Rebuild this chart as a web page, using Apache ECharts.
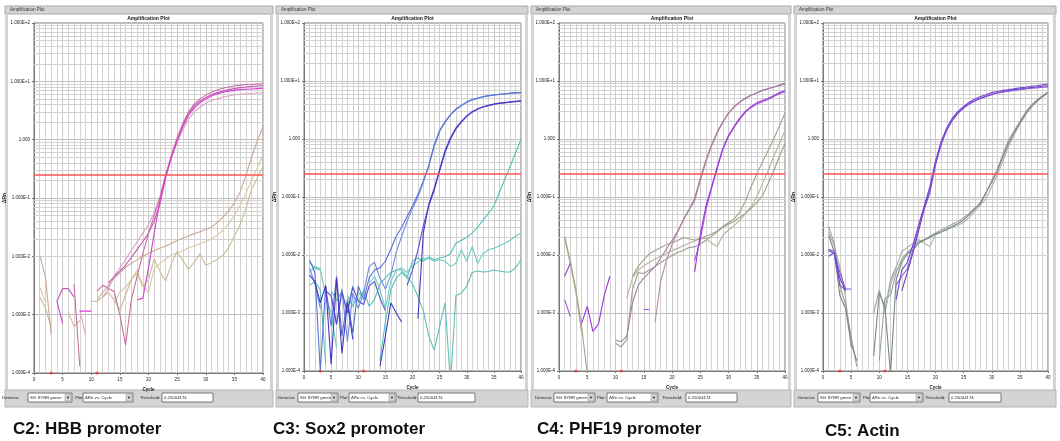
<!DOCTYPE html>
<html>
<head>
<meta charset="utf-8">
<script src="https://cdn.jsdelivr.net/npm/echarts@6/dist/echarts.min.js"></script>
<style>
  html, body { margin: 0; padding: 0; background: #fff; }
  #chart { width: 1060px; height: 441px; }
</style>
</head>
<body>
<div id="chart"></div>
<script>
const _ = '-'; // no point (negative dRn, not drawn on log scale)

const cycles = [1, 2, 3, 4, 5, 6, 7, 8, 9, 10, 11, 12, 13, 14, 15, 16, 17, 18, 19, 20,
  21, 22, 23, 24, 25, 26, 27, 28, 29, 30, 31, 32, 33, 34, 35, 36, 37, 38, 39, 40];
const yTickLabels = ['1.000E-4', '1.000E-3', '1.000E-2', '1.000E-1', '1.000', '1.000E+1', '1.000E+2'];
const threshold = 0.25004174;
const baselineCycles = [3, 11];
const captions = ['C2: HBB promoter', 'C3: Sox2 promoter', 'C4: PHF19 promoter', 'C5: Actin'];

// C2: HBB promoter
const hbbMag1 = [_, _, _, 1.7e-3, 2.8e-3, 2.8e-3, 2.0e-3, _, _, _,
  _, _, 3.5e-3, 4.5e-3, 5.6e-3, 7.1e-3, 9.5e-3, 0.013, 0.018, 0.025,
  0.04, 0.079, 0.22, 0.5, 1.0, 1.78, 2.8, 3.8, 4.6, 5.3,
  5.9, 6.4, 6.8, 7.2, 7.5, 7.8, 8.0, 8.2, 8.3, 8.4];
const hbbMag2 = [_, _, _, _, _, _, 3.3e-3, 1.3e-4, _, _,
  2.5e-3, 3.2e-3, 2.8e-3, 2.5e-3, 1.0e-3, 3.0e-4, 1.8e-3, 4.5e-3, 0.011, 0.025,
  0.05, 0.1, 0.25, 0.55, 1.07, 1.9, 3.0, 4.1, 5.0, 5.8,
  6.5, 7.1, 7.6, 8.0, 8.3, 8.6, 8.8, 8.9, 9.0, 9.1];
const hbbMag3 = [_, _, _, 1.7e-3, 7.0e-4, _, _, 1.15e-3, 1.15e-3, 1.15e-3,
  _, _, _, _, _, _, _, 1.8e-3, 1.9e-3, 6.3e-3,
  0.025, 0.09, 0.24, 0.5, 0.95, 1.66, 2.6, 3.5, 4.3, 5.0,
  5.6, 6.1, 6.5, 6.8, 7.0, 7.2, 7.3, 7.4, 7.5, 7.6];
const hbbMag4 = [_, _, _, _, _, _, _, 1.2e-3, 4.5e-4, _,
  _, 2.0e-3, 2.8e-3, 4.5e-3, 6.3e-3, 8.9e-3, 0.0126, 0.0178, 0.025, 0.035,
  0.056, 0.105, 0.25, 0.5, 0.89, 1.48, 2.24, 3.0, 3.6, 4.2,
  4.7, 5.0, 5.4, 5.6, 5.9, 6.0, 6.1, 6.2, 6.3, 6.3];
const hbbTan1 = [0.0105, 4.4e-3, 4.6e-4, _, _, _, _, _, _, _,
  1.8e-3, 2.4e-3, 3.2e-3, 4.2e-3, 5.2e-3, 6.5e-3, 7.6e-3, 8.7e-3, 0.01, 0.0112,
  0.0126, 0.0138, 0.015, 0.0166, 0.0186, 0.0204, 0.0224, 0.0245, 0.0263, 0.0288,
  0.0316, 0.038, 0.047, 0.06, 0.083, 0.126, 0.24, 0.5, 0.95, 1.66];
const hbbTan2 = [2.0e-3, 1.3e-3, 6.0e-4, _, _, 1.1e-3, 6.3e-4, 8.0e-4, _, 1.7e-3,
  1.7e-3, 2.0e-3, 2.4e-3, 1.8e-3, 1.2e-3, 2.2e-3, 4.0e-3, 5.2e-3, 3.0e-3, 4.0e-3,
  9.0e-3, 5.5e-3, 3.8e-3, 7.5e-3, 0.012, 8.5e-3, 6.0e-3, 8.0e-3, 0.011, 7.0e-3,
  7.8e-3, 8.8e-3, 0.0105, 0.014, 0.022, 0.035, 0.065, 0.14, 0.22, 0.35];
const hbbTan3 = [3.0e-3, 1.6e-3, _, _, _, _, _, _, _, _,
  _, _, _, 1.6e-3, 2.4e-3, 3.0e-3, 4.0e-3, 5.8e-3, 3.2e-3, 2.4e-3,
  6.2e-3, 7.5e-3, 9.0e-3, 0.0105, 0.0115, 0.0125, 0.014, 0.015, 0.0165, 0.018,
  0.02, 0.023, 0.028, 0.036, 0.05, 0.075, 0.12, 0.2, 0.33, 0.55];

// C3: Sox2 promoter
const soxBlue1 = [8.3e-3, 5.0e-3, 1.0e-4, 2.9e-3, 5.9e-4, 4.3e-3, 4.0e-4, 1.7e-3, 4.5e-4, 2.9e-3,
  1.7e-3, 4.0e-3, 5.5e-3, 6.0e-3, 7.8e-3, 0.0126, 0.021, 0.03, 0.046, 0.07,
  0.11, 0.19, 0.35, 0.79, 1.41, 2.0, 2.63, 3.3, 3.8, 4.37,
  4.8, 5.1, 5.4, 5.6, 5.75, 5.9, 6.0, 6.2, 6.3, 6.3];
const soxBlue2 = [6.0e-3, 3.2e-3, 1.2e-3, _, 2.0e-3, 6.5e-4, 2.6e-3, 3.2e-4, 2.2e-3, 1.2e-3,
  2.2e-3, 6.3e-3, 7.5e-3, 4.0e-3, 2.6e-3, 4.5e-3, 0.0112, 0.021, 0.038, 0.063,
  0.1, 0.18, 0.34, 0.75, 1.35, 1.95, 2.6, 3.2, 3.75, 4.3,
  4.7, 5.0, 5.3, 5.5, 5.7, 5.85, 6.0, 6.1, 6.2, 6.3];
const soxIndigo1 = [4.5e-3, 3.5e-3, 1.5e-3, 3.0e-3, 1.3e-4, 4.0e-3, 2.0e-4, 1.5e-3, 3.5e-4, _,
  _, _, _, 1.2e-4, 4.0e-4, 1.5e-3, 1.0e-3, 7.0e-4, _, _,
  8.0e-4, 0.024, 0.075, 0.14, 0.3, 0.63, 1.05, 1.55, 2.0, 2.5,
  2.95, 3.3, 3.6, 3.8, 4.0, 4.15, 4.27, 4.37, 4.47, 4.57];
const soxIndigo2 = [_, _, _, 2.4e-3, 2.0e-3, 6.3e-4, 2.3e-3, 1.0e-3, 2.8e-3, 1.6e-3,
  1.4e-3, 2.9e-3, 3.5e-3, 1.8e-3, 1.1e-3, _, _, _, 3.0e-3, 5.5e-3,
  0.012, 0.032, 0.07, 0.13, 0.28, 0.58, 1.0, 1.48, 1.95, 2.45,
  2.9, 3.25, 3.55, 3.75, 3.95, 4.1, 4.2, 4.3, 4.4, 4.5];
const soxTeal1 = [7.5e-3, 6.0e-3, 5.5e-3, _, 2.4e-3, 1.7e-3, _, 2.0e-3, 1.3e-3, 2.3e-3,
  1.8e-3, _, _, 1.5e-4, 7.0e-4, 2.5e-3, 4.0e-3, 5.0e-3, 4.0e-3, 7.9e-3,
  8.9e-3, 7.8e-3, 9.3e-3, 8.3e-3, 8.9e-3, 9.3e-3, 0.0105, 0.016, 0.018, 0.02,
  0.024, 0.03, 0.04, 0.052, 0.07, 0.118, 0.2, 0.34, 0.58, 0.98];
const soxTeal2 = [5.0e-3, 6.3e-3, 5.8e-3, 2.0e-3, 1.0e-3, 2.5e-4, _, 1.2e-3, 3.0e-3, _,
  _, 3.2e-3, 4.3e-3, 2.5e-3, 1.2e-3, 3.5e-3, 5.5e-3, 6.0e-3, 5.0e-3, 6.5e-3,
  7.5e-3, 8.7e-3, 8.7e-3, 7.8e-3, 8.3e-3, 7.9e-3, 6.3e-3, 7.2e-3, 0.0123, 7.8e-3,
  0.014, 7.2e-3, 0.0105, 0.0123, 0.013, 0.0145, 0.016, 0.018, 0.021, 0.024];
const soxTeal3 = [3.0e-3, 3.5e-3, 2.5e-3, 1.3e-4, _, 1.6e-3, 2.4e-3, 1.0e-3, _, 1.5e-3,
  2.5e-3, 1.3e-3, 1.7e-3, 3.2e-3, 4.0e-3, 5.0e-3, 5.5e-3, 5.5e-3, 4.3e-3, 3.2e-3,
  1.9e-3, 1.1e-3, 4.0e-4, 2.3e-4, 5.9e-4, 1.5e-3, 6.0e-5, 2.0e-3, 2.2e-3, 2.9e-3,
  5.0e-3, 5.3e-3, 5.1e-3, 5.2e-3, 5.5e-3, 5.3e-3, 5.1e-3, 5.1e-3, 6.0e-3, 8.3e-3];

// C4: PHF19 promoter
const phfMauve1 = [_, _, _, _, _, _, _, _, _, 3.4e-4,
  3.2e-4, 4.0e-4, 1.5e-3, 3.0e-3, 4.0e-3, 5.0e-3, 6.3e-3, 8.9e-3, 0.0126, 0.0178,
  0.026, 0.04, 0.06, 0.095, 0.21, 0.43, 0.8, 1.32, 2.0, 2.82,
  3.63, 4.37, 5.1, 5.75, 6.3, 6.9, 7.4, 7.9, 8.5, 9.1];
const phfMauve2 = [_, _, _, _, _, _, _, _, _, _,
  _, _, _, _, _, _, 7.0e-4, 3.5e-3, 8.0e-3, 0.015,
  0.025, 0.04, 0.06, 0.085, 0.19, 0.4, 0.76, 1.26, 1.95, 2.75,
  3.55, 4.3, 5.0, 5.6, 6.2, 6.8, 7.3, 7.8, 8.3, 8.9];
const phfPurple1 = [4.3e-3, 7.2e-3, _, 6.6e-4, 1.3e-3, 4.8e-4, 6.5e-4, 2.0e-3, 4.3e-3, _,
  _, _, _, _, _, _, _, _, _, _,
  _, _, _, 5.1e-3, 0.022, 0.07, 0.15, 0.33, 0.69, 1.15,
  1.66, 2.3, 3.0, 3.6, 4.2, 4.6, 5.0, 5.6, 6.3, 6.8];
const phfPurple2 = [1.7e-3, 8.7e-4, _, _, _, _, _, _, _, _,
  _, _, _, _, 1.15e-3, 1.15e-3, _, _, _, _,
  _, _, _, 8.0e-3, 0.018, 0.06, 0.14, 0.31, 0.66, 1.1,
  1.6, 2.2, 2.9, 3.5, 4.0, 4.4, 4.8, 5.4, 6.0, 6.6];
const phfTan1 = [0.021, 7.9e-3, 2.5e-3, 5.9e-4, 9.0e-5, _, _, _, _, _,
  _, _, 4.3e-3, 6.3e-3, 8.3e-3, 0.0105, 0.012, 0.0135, 0.015, 0.0162,
  0.0178, 0.02, 0.019, 0.018, 0.0195, 0.021, 0.023, 0.026, 0.031, 0.036,
  0.042, 0.055, 0.085, 0.15, 0.25, 0.4, 0.63, 1.0, 1.66, 2.8];
const phfTan2 = [0.019, 7.0e-3, 2.2e-3, 4.5e-4, _, _, _, _, _, _,
  _, 1.8e-3, 4.0e-3, 5.5e-3, 6.5e-3, 7.5e-3, 8.5e-3, 9.5e-3, 0.0105, 0.012,
  0.013, 0.0145, 0.016, 0.0175, 0.019, 0.0195, 0.016, 0.014, 0.022, 0.027,
  0.032, 0.04, 0.052, 0.068, 0.1, 0.17, 0.28, 0.5, 0.83, 1.4];
const phfTan3 = [_, _, _, _, _, _, _, _, _, 3.0e-4,
  2.6e-4, 3.5e-4, 2.5e-3, 5.0e-3, 4.8e-3, 5.5e-3, 6.3e-3, 7.4e-3, 8.5e-3, 9.8e-3,
  0.011, 0.012, 0.0135, 0.0138, 0.0155, 0.018, 0.021, 0.025, 0.03, 0.034,
  0.038, 0.045, 0.052, 0.064, 0.08, 0.105, 0.17, 0.28, 0.5, 0.83];

// C5: Actin
const actPurple1 = [0.012, 0.0105, 3.0e-3, 2.5e-3, _, _, _, _, _, _,
  _, _, 1.7e-3, 5.5e-3, 7.5e-3, 0.015, 0.033, 0.07, 0.15, 0.42,
  0.9, 1.55, 2.3, 3.0, 3.65, 4.3, 4.9, 5.4, 5.8, 6.3,
  6.6, 6.9, 7.1, 7.35, 7.6, 7.8, 8.1, 8.3, 8.6, 8.9];
const actPurple2 = [0.0125, 0.0115, 5.0e-3, 2.6e-3, 2.6e-3, _, _, _, _, _,
  _, _, 3.0e-3, 4.3e-3, 5.8e-3, 0.0123, 0.03, 0.068, 0.14, 0.38,
  0.85, 1.5, 2.2, 2.9, 3.5, 4.1, 4.6, 5.1, 5.5, 5.9,
  6.2, 6.5, 6.7, 6.9, 7.1, 7.3, 7.5, 7.6, 7.8, 7.9];
const actPurple3 = [9.5e-3, 0.011, 4.0e-3, 2.4e-3, _, _, _, _, _, _,
  _, _, _, 2.4e-3, 5.0e-3, 0.011, 0.026, 0.062, 0.12, 0.36,
  0.8, 1.42, 2.1, 2.8, 3.4, 4.0, 4.5, 5.0, 5.4, 5.8,
  6.2, 6.5, 6.8, 7.1, 7.3, 7.5, 7.7, 7.9, 8.1, 8.3];
const actGray1 = [0.031, 0.016, 3.0e-3, 1.4e-3, 4.0e-4, 1.2e-4, _, _, _, 1.5e-4,
  1.8e-3, 2.0e-3, 5.0e-3, 8.5e-3, 0.011, 0.014, 0.017, 0.0185, 0.021, 0.024,
  0.027, 0.03, 0.034, 0.038, 0.044, 0.052, 0.065, 0.075, 0.12, 0.19,
  0.3, 0.55, 0.95, 1.4, 2.0, 2.9, 3.8, 4.7, 5.6, 6.5];
const actGray2 = [0.025, 0.014, 6.3e-3, 1.9e-3, 2.5e-4, _, _, _, _, _,
  1.0e-3, 3.0e-3, 6.0e-3, 0.0115, 0.0135, 0.016, 0.0185, 0.016, 0.014, 0.022,
  0.025, 0.027, 0.03, 0.033, 0.036, 0.045, 0.058, 0.072, 0.095, 0.15,
  0.24, 0.42, 0.75, 1.2, 1.8, 2.6, 3.5, 4.4, 5.3, 6.2];
const actGray3 = [0.022, 0.0112, 2.0e-3, 1.2e-3, 3.0e-4, 1.5e-4, _, _, 1.8e-4, 2.2e-3,
  1.3e-3, 9.0e-5, 3.7e-3, 7.5e-3, 0.0105, 0.0123, 0.016, 0.018, 0.02, 0.023,
  0.025, 0.028, 0.031, 0.035, 0.04, 0.05, 0.063, 0.08, 0.12, 0.18,
  0.28, 0.5, 0.85, 1.3, 1.9, 2.7, 3.6, 4.5, 5.4, 6.3];
const actGray4 = [_, _, _, _, _, _, _, _, 1.0e-3, 2.5e-3,
  1.1e-3, 3.7e-3, 6.3e-3, _, _, _, _, _, _, _,
  _, _, _, _, _, _, _, _, _, _,
  _, _, _, _, _, _, _, _, _, _];

// log grid: decades and the 2..9 steps between them
const logDecades = [1e-4, 1e-3, 1e-2, 1e-1, 1, 10];
const logSteps = [2, 3, 4, 5, 6, 7, 8, 9];
const minorLog = logDecades.flatMap(d => logSteps.map(s => s * d));

const panels = [
  { grid: { left: 34, top: 23, width: 229, height: 350 }, fx: 5, fw: 268, capX: 13, capY: 429,
    ctl: [2, 28, 44, 75, 83, 50, 140, 162, 51],
    traces: [[hbbTan3, '#d8c9a8'], [hbbTan2, '#c9bd92'], [hbbTan1, '#c9a994'],
      [hbbMag4, '#dca2c8'], [hbbMag1, '#c257b4'], [hbbMag2, '#c8709e'], [hbbMag3, '#d83ed2']] },
  { grid: { left: 304, top: 23, width: 217, height: 348 }, fx: 276, fw: 252, capX: 273, capY: 429,
    ctl: [278, 298, 40, 340, 349, 47, 397, 418, 57],
    traces: [[soxTeal3, '#5cbfb6'], [soxTeal2, '#6fcbc2'], [soxTeal1, '#4fc2b9'],
      [soxBlue2, '#6c8ce0'], [soxBlue1, '#5673d4'], [soxIndigo2, '#5a4ed0'], [soxIndigo1, '#4536c2']] },
  { grid: { left: 559, top: 23, width: 226, height: 348 }, fx: 531, fw: 260, capX: 537, capY: 429,
    ctl: [535, 554, 41, 597, 607, 51, 662, 686, 51],
    traces: [[phfTan3, '#9c9c90'], [phfTan2, '#b8b098'], [phfTan1, '#a8a088'],
      [phfMauve2, '#b48cb0'], [phfMauve1, '#a57e9c'], [phfPurple2, '#a752e0'], [phfPurple1, '#9a36da']] },
  { grid: { left: 823, top: 23, width: 225, height: 348 }, fx: 794, fw: 262, capX: 825, capY: 431,
    ctl: [798, 818, 42, 863, 870, 53, 925, 949, 52],
    traces: [[actGray4, '#98a49c'], [actGray2, '#a8b2ac'], [actGray1, '#95a398'], [actGray3, '#7c8680'],
      [actPurple3, '#6a3ec0'], [actPurple2, '#8658d8'], [actPurple1, '#7448d0']] }
];

const toPairs = arr => arr.map((v, i) => [cycles[i], v]);
const tiny = 'Liberation Sans';

let series = [];
let graphic = [];
panels.forEach((p, i) => {
  // minor log grid lines, kept under the traces
  series.push({
    type: 'line', xAxisIndex: i, yAxisIndex: i, data: [], z: 1, silent: true,
    markLine: {
      z: 1, silent: true, symbol: ['none', 'none'], label: { show: false },
      lineStyle: { color: '#d2d2d2', width: 1, type: 'solid' },
      data: minorLog.map(v => ({ yAxis: v }))
    }
  });
  p.traces.forEach(([arr, color]) => {
    series.push({
      type: 'line', xAxisIndex: i, yAxisIndex: i, data: toPairs(arr),
      showSymbol: false, symbol: 'none', z: 3, silent: true,
      lineStyle: { color: color, width: 1.1 }
    });
  });
  // threshold + baseline markers
  series.push({
    type: 'scatter', xAxisIndex: i, yAxisIndex: i, clip: false, z: 5, silent: true,
    data: baselineCycles.map(c => [c, 1e-4]),
    symbol: 'circle', symbolSize: 3, itemStyle: { color: '#ff2a2a' },
    markLine: {
      z: 6, silent: true, symbol: ['none', 'none'], label: { show: false },
      lineStyle: { color: '#ff5555', width: 1.5, type: 'solid' },
      data: [{ yAxis: threshold }]
    }
  });

  const g = p.grid;
  // window chrome
  graphic.push(
    { type: 'rect', shape: { x: p.fx, y: 6, width: p.fw, height: 8 }, style: { fill: '#d4d4d4', stroke: '#a8a8a8', lineWidth: 1 } },
    { type: 'text', x: p.fx + 5, y: 10, style: { text: 'Amplification Plot', font: '4.5px ' + tiny, fill: '#333', verticalAlign: 'middle' } },
    { type: 'rect', shape: { x: p.fx, y: 14, width: 3, height: 376 }, style: { fill: '#d4d4d4' } },
    { type: 'rect', shape: { x: p.fx + p.fw - 3, y: 14, width: 3, height: 376 }, style: { fill: '#d4d4d4' } },
    { type: 'rect', shape: { x: p.fx, y: 390, width: p.fw, height: 17 }, style: { fill: '#d4d4d4', stroke: '#b4b4b4', lineWidth: 1 } },
    { type: 'text', x: g.left + g.width / 2, y: 19, style: { text: 'Amplification Plot', font: 'bold 5px ' + tiny, fill: '#111', align: 'center', verticalAlign: 'middle' } }
  );
  // controls
  const c = p.ctl;
  const cy = 393, ch = 9;
  const label = (x, t) => ({ type: 'text', x: x, y: cy + ch / 2, style: { text: t, font: '4.3px ' + tiny, fill: '#222', verticalAlign: 'middle' } });
  const box = (x, w, t, drop) => {
    const els = [
      { type: 'rect', shape: { x: x, y: cy, width: w, height: ch }, style: { fill: '#fff', stroke: '#777', lineWidth: 1 } },
      { type: 'text', x: x + 2, y: cy + ch / 2, style: { text: t, font: '4.3px ' + tiny, fill: '#222', verticalAlign: 'middle' } }
    ];
    if (drop) {
      els.push(
        { type: 'rect', shape: { x: x + w - 7, y: cy + 1, width: 6, height: ch - 2 }, style: { fill: '#d8d8d8', stroke: '#888', lineWidth: 0.5 } },
        { type: 'text', x: x + w - 4, y: cy + ch / 2, style: { text: '▼', font: '4px ' + tiny, fill: '#111', align: 'center', verticalAlign: 'middle' } }
      );
    }
    return els;
  };
  graphic.push(label(c[0], 'Detector:'), ...box(c[1], c[2], 'SG SYBR green', true),
    label(c[3], 'Plot:'), ...box(c[4], c[5], 'ΔRn vs. Cycle', true),
    label(c[6], 'Threshold:'), ...box(c[7], c[8], String(threshold), false));
  // caption
  graphic.push({ type: 'text', x: p.capX, y: p.capY, style: { text: captions[i], font: 'bold 17px "Liberation Sans", Arial, sans-serif', fill: '#111', verticalAlign: 'middle' } });
});

const chart = echarts.init(document.getElementById('chart'));
chart.setOption({
  animation: false,
  backgroundColor: '#ffffff',
  grid: panels.map(p => ({ ...p.grid, show: true, backgroundColor: '#ffffff', borderColor: '#777', borderWidth: 1 })),
  xAxis: panels.map((p, i) => ({
    type: 'value', gridIndex: i, min: 0, max: 40, interval: 5,
    name: 'Cycle', nameLocation: 'middle', nameGap: 12,
    nameTextStyle: { fontSize: 4.5, fontWeight: 'bold', color: '#222', fontFamily: tiny },
    axisLine: { show: true, lineStyle: { color: '#777', width: 1 } },
    axisTick: { show: true, length: 2, lineStyle: { color: '#777' } },
    axisLabel: { fontSize: 4.5, color: '#222', margin: 4, fontFamily: tiny },
    splitLine: { show: true, lineStyle: { color: '#c8c8c8', width: 1 } },
    minorTick: { show: false, splitNumber: 5 },
    minorSplitLine: { show: true, lineStyle: { color: '#d2d2d2', width: 1 } }
  })),
  yAxis: panels.map((p, i) => ({
    type: 'log', logBase: 10, gridIndex: i, min: 1e-4, max: 100, splitNumber: 6,
    name: 'ΔRn', nameLocation: 'middle', nameGap: 22, nameRotate: 90,
    nameTextStyle: { fontSize: 5, fontWeight: 'bold', color: '#222', fontFamily: tiny },
    axisLine: { show: true, lineStyle: { color: '#777', width: 1 } },
    axisTick: { show: true, length: 2, lineStyle: { color: '#777' } },
    axisLabel: {
      fontSize: 4.5, color: '#222', margin: 4, fontFamily: tiny,
      formatter: v => yTickLabels[Math.round(Math.log10(v)) + 4] || ''
    },
    splitLine: { show: true, lineStyle: { color: '#bdbdbd', width: 1 } }
  })),
  series: series,
  graphic: graphic
});
</script>
</body>
</html>
